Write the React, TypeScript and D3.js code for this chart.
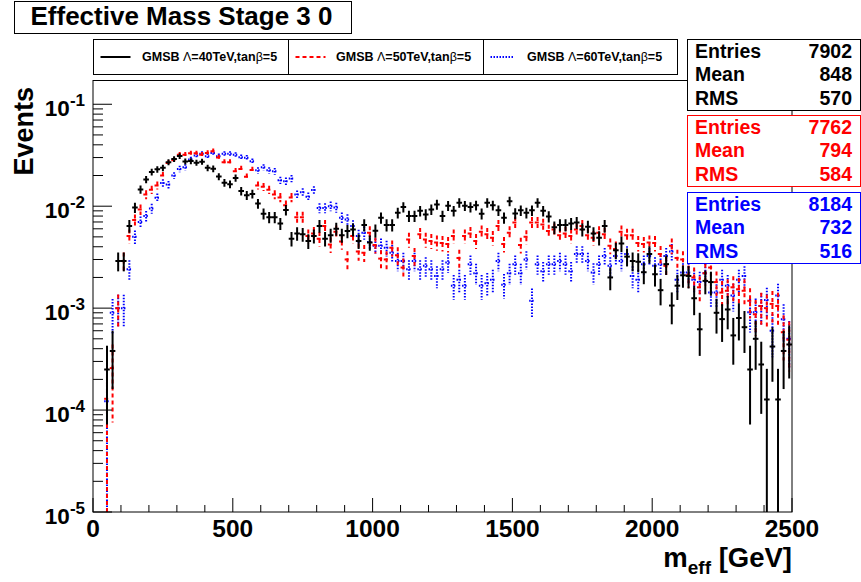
import React from 'react';
import * as d3 from 'd3';

const W = 861;
const H = 582;

const xDomain = [0, 2500];
const binWidth = 20;
const yDomain = [1e-5, 0.171];

const black40 = [0, 0, 2.5e-4, 3.8e-4, 2.9e-3, 2.9e-3, 6.4e-3, 9.7e-3, 1.46e-2, 1.83e-2,
  2.16e-2, 2.3e-2, 2.38e-2, 2.7e-2, 2.9e-2, 3.1e-2, 2.75e-2, 2.77e-2, 2.67e-2, 2.73e-2,
  2.38e-2, 2.33e-2, 1.95e-2, 1.7e-2, 1.64e-2, 1.89e-2, 1.41e-2, 1.28e-2, 1.32e-2, 1.06e-2,
  8.45e-3, 7.8e-3, 7.8e-3, 6.75e-3, 9.2e-3, 4.8e-3, 5.4e-3, 5.3e-3, 4.56e-3, 5.1e-3,
  6.4e-3, 4.8e-3, 5.2e-3, 6.0e-3, 5.2e-3, 5.7e-3, 5.9e-3, 4.56e-3, 6.55e-3, 4.4e-3,
  5.75e-3, 7.7e-3, 6.55e-3, 6.55e-3, 8.6e-3, 9.8e-3, 8.0e-3, 8.0e-3, 9.0e-3, 8.3e-3,
  9.3e-3, 1.04e-2, 8.0e-3, 1.01e-2, 9.0e-3, 1.08e-2, 1.01e-2, 9.8e-3, 1.02e-2, 8.45e-3,
  1.08e-2, 1.02e-2, 9.1e-3, 7.7e-3, 1.12e-2, 8.5e-3, 9.1e-3, 8.6e-3, 9.1e-3, 1.08e-2,
  9.0e-3, 7.9e-3, 6.2e-3, 6.55e-3, 6.55e-3, 6.75e-3, 6.9e-3, 5.9e-3, 6.3e-3, 5.4e-3,
  4.9e-3, 6.4e-3, 2.0e-3, 3.7e-3, 4.3e-3, 3.2e-3, 2.9e-3, 2.85e-3, 2.25e-3, 3.4e-3,
  2.15e-3, 1.5e-3, 2.7e-3, 1.06e-3, 1.66e-3, 2.1e-3, 2.07e-3, 1.25e-3, 6.2e-4, 1.85e-3,
  1.8e-3, 9.0e-4, 7.8e-4, 9.7e-4, 5.4e-4, 8.0e-4, 6.5e-4, 2.5e-4, 5.0e-4, 2.8e-4,
  1.27e-4, 4.2e-4, 1.27e-4, 3.8e-4, 4.4e-4];

const red50 = [0, 0, 1.29e-4, 2.58e-4, 1.0e-3, 2.9e-3, 5.1e-3, 7.3e-3, 9.3e-3, 1.3e-2,
  1.45e-2, 1.6e-2, 2.0e-2, 2.66e-2, 2.83e-2, 3.2e-2, 3.2e-2, 3.3e-2, 3.3e-2, 3.2e-2,
  3.33e-2, 3.46e-2, 3.0e-2, 2.7e-2, 2.7e-2, 2.2e-2, 2.32e-2, 1.94e-2, 2.26e-2, 1.6e-2,
  1.55e-2, 1.45e-2, 1.3e-2, 1.22e-2, 1.02e-2, 1.22e-2, 7.8e-3, 7.8e-3, 5.1e-3, 5.4e-3,
  4.8e-3, 6.4e-3, 4.2e-3, 5.6e-3, 4.5e-3, 3.0e-3, 5.1e-3, 3.6e-3, 3.5e-3, 5.5e-3,
  4.17e-3, 3.06e-3, 3.0e-3, 3.9e-3, 3.3e-3, 2.5e-3, 4.7e-3, 3.25e-3, 5.3e-3, 4.7e-3,
  4.56e-3, 4.4e-3, 4.35e-3, 4.25e-3, 5.1e-3, 3.1e-3, 5.1e-3, 5.4e-3, 4.56e-3, 5.6e-3,
  5.3e-3, 4.9e-3, 6.4e-3, 4.25e-3, 5.5e-3, 6.9e-3, 4.17e-3, 5.0e-3, 6.9e-3, 6.9e-3,
  6.6e-3, 5.7e-3, 5.9e-3, 5.2e-3, 5.4e-3, 5.1e-3, 5.9e-3, 6.4e-3, 5.2e-3, 4.9e-3,
  5.5e-3, 5.3e-3, 4.1e-3, 3.8e-3, 5.6e-3, 5.2e-3, 5.2e-3, 4.35e-3, 4.25e-3, 4.4e-3,
  4.35e-3, 3.4e-3, 2.6e-3, 4.1e-3, 3.1e-3, 3.0e-3, 2.1e-3, 2.0e-3, 1.6e-3, 2.2e-3,
  2.5e-3, 1.8e-3, 1.42e-3, 1.48e-3, 1.6e-3, 1.53e-3, 1.48e-3, 1.18e-3, 8.7e-4, 1.05e-3,
  1.0e-3, 1.1e-3, 1.05e-3, 5.8e-4, 4.9e-4];

const blue60 = [0, 0, 1.22e-4, 9.0e-4, 1.0e-3, 1.0e-3, 2.4e-3, 5.0e-3, 7.0e-3, 8.0e-3,
  9.5e-3, 1.21e-2, 1.69e-2, 1.63e-2, 2.0e-2, 2.32e-2, 2.41e-2, 2.87e-2, 3.14e-2, 3.26e-2,
  3.09e-2, 3.33e-2, 3.09e-2, 3.26e-2, 3.26e-2, 3.19e-2, 3.02e-2, 2.98e-2, 2.76e-2, 2.25e-2,
  2.41e-2, 2.25e-2, 2.2e-2, 1.8e-2, 1.76e-2, 1.87e-2, 1.3e-2, 1.37e-2, 1.24e-2, 1.44e-2,
  9.6e-3, 9.6e-3, 1.0e-2, 9.7e-3, 7.7e-3, 7.4e-3, 6.4e-3, 5.1e-3, 5.5e-3, 4.45e-3,
  4.1e-3, 4.1e-3, 3.9e-3, 3.5e-3, 2.9e-3, 2.9e-3, 2.4e-3, 2.9e-3, 2.4e-3, 2.6e-3,
  2.4e-3, 2.07e-3, 2.4e-3, 2.8e-3, 1.66e-3, 1.9e-3, 1.66e-3, 2.7e-3, 2.2e-3, 1.66e-3,
  1.75e-3, 1.9e-3, 2.9e-3, 1.7e-3, 2.2e-3, 2.7e-3, 2.2e-3, 3.0e-3, 1.18e-3, 2.7e-3,
  2.3e-3, 2.7e-3, 2.7e-3, 2.9e-3, 2.7e-3, 2.3e-3, 3.4e-3, 3.4e-3, 2.9e-3, 2.23e-3,
  2.7e-3, 3.25e-3, 2.6e-3, 3.25e-3, 2.9e-3, 3.4e-3, 2.07e-3, 1.9e-3, 2.7e-3, 3.25e-3,
  2.6e-3, 2.7e-3, 3.25e-3, 3.6e-3, 1.9e-3, 2.23e-3, 2.23e-3, 1.9e-3, 1.8e-3, 2.2e-3,
  1.42e-3, 1.42e-3, 1.9e-3, 1.66e-3, 1.33e-3, 1.9e-3, 2.07e-3, 9.1e-4, 9.1e-4, 1.05e-3,
  1.2e-3, 6.0e-4, 1.33e-3, 7.8e-4, 5.0e-4];

const seriesLabels = ['GMSB Λ=40TeV,tanβ=5', 'GMSB Λ=50TeV,tanβ=5', 'GMSB Λ=60TeV,tanβ=5'];
const entries = [7902, 7762, 8184];
const means = [848, 794, 732];
const rmsValues = [570, 584, 516];
const xTicks = [0, 500, 1000, 1500, 2000, 2500];
const yDecades = [-5, -4, -3, -2, -1];
const titleText = 'Effective Mass Stage 3 0';

const colors = ['#000000', '#ff0000', '#0000ff'];
const dashes = ['none', '4 3', '1.5 1.5'];

const FONT = '"Liberation Sans", Arial, Helvetica, sans-serif';

function GreekText({ text, greekWeight }: { text: string; greekWeight: string }) {
  const parts = text.split(/([Α-Ωα-ω])/).filter((p) => p.length > 0);
  return (
    <>
      {parts.map((p, i) =>
        /[Α-Ωα-ω]/.test(p) ? (
          <tspan key={i} fontWeight={greekWeight}>{p}</tspan>
        ) : (
          <tspan key={i}>{p}</tspan>
        )
      )}
    </>
  );
}

export default function App() {
  const left = 93, right = 792, top = 80.5, bottom = 512;
  const x = d3.scaleLinear().domain(xDomain).range([left, right]);
  const y = d3.scaleLog().domain(yDomain).range([bottom, top]);

  const allSeries = [black40, red50, blue60];
  const order = [2, 1, 0];

  const minorX = d3.range(xDomain[0], xDomain[1] + 1, 100).filter((v) => !xTicks.includes(v));
  const minorY: number[] = [];
  yDecades.forEach((d) => {
    for (let k = 2; k <= 9; k++) {
      const v = k * Math.pow(10, d);
      if (v < yDomain[1]) minorY.push(v);
    }
  });

  const statsTops = [39, 115, 192];
  const legendCellX = [93.5, 288.5, 483.5];
  const legendLineEnd = [37, 37, 30];
  const legendTextX = [142, 336, 527];

  return (
    <svg width={W} height={H} style={{ position: 'absolute', left: 0, top: 0, background: '#fff' }} fontFamily={FONT}>
      <rect x={0} y={0} width={W} height={H} fill="#fff" />
      <defs>
        <clipPath id="plotclip">
          <rect x={left} y={top} width={right - left} height={bottom - top} />
        </clipPath>
      </defs>

      {/* histograms */}
      <g clipPath="url(#plotclip)">
        {order.map((si) => {
          const vals = allSeries[si];
          const N = entries[si];
          return (
            <g key={si} stroke={colors[si]} strokeWidth={2} strokeDasharray={dashes[si]} fill="none">
              {vals.map((v, i) => {
                if (v <= 0) return null;
                const lo = xDomain[0] + i * binWidth;
                const hi = lo + binWidth;
                const cx = x(lo + binWidth / 2);
                const err = Math.sqrt(v / N);
                const yTop = y(v + err);
                const yLow = v - err > yDomain[0] ? y(v - err) : bottom;
                const yv = y(v);
                return (
                  <g key={i}>
                    <line x1={x(lo)} x2={x(hi)} y1={yv} y2={yv} />
                    <line x1={cx} x2={cx} y1={yTop} y2={yLow} />
                  </g>
                );
              })}
            </g>
          );
        })}
      </g>

      {/* frame */}
      <rect x={left} y={top} width={right - left} height={bottom - top} fill="none" stroke="#000" strokeWidth={1} />

      {/* ticks */}
      <g stroke="#000" strokeWidth={1}>
        {xTicks.map((t) => (
          <line key={'xm' + t} x1={x(t)} x2={x(t)} y1={bottom} y2={bottom - 14} />
        ))}
        {minorX.map((t) => (
          <line key={'xn' + t} x1={x(t)} x2={x(t)} y1={bottom} y2={bottom - 7} />
        ))}
        {yDecades.map((d) => (
          <line key={'ym' + d} x1={left} x2={left + 19} y1={y(Math.pow(10, d))} y2={y(Math.pow(10, d))} />
        ))}
        {minorY.map((v, i) => (
          <line key={'yn' + i} x1={left} x2={left + 10} y1={y(v)} y2={y(v)} />
        ))}
      </g>

      {/* x tick labels */}
      <g fontWeight="bold" fontSize={24.5} textAnchor="middle" fill="#000">
        {xTicks.map((t) => (
          <text key={t} x={x(t)} y={537}>{t}</text>
        ))}
      </g>

      {/* y tick labels */}
      <g fontWeight="bold" fontSize={22.5} textAnchor="end" fill="#000">
        {yDecades.map((d) => (
          <text key={d} x={85} y={y(Math.pow(10, d)) + 12}>
            10<tspan fontSize={17} dy={-10}>{String(d)}</tspan>
          </text>
        ))}
      </g>

      {/* axis titles */}
      <text x={792} y={567} textAnchor="end" fontWeight="bold" fontSize={27.5} fill="#000">
        m<tspan fontSize={19} dy={7}>eff</tspan><tspan dy={-7}> [GeV]</tspan>
      </text>
      <text transform="translate(33,87) rotate(-90)" textAnchor="end" fontWeight="bold" fontSize={27} fill="#000">Events</text>

      {/* title */}
      <rect x={14.5} y={1.5} width={337} height={32} fill="#fff" stroke="#000" strokeWidth={1} />
      <text x={181.5} y={25} textAnchor="middle" fontWeight="bold" fontSize={26} fill="#000">{titleText}</text>

      {/* legend */}
      <rect x={93.5} y={39.5} width={584} height={35} fill="#fff" stroke="#000" strokeWidth={1} />
      {[0, 1, 2].map((si) => (
        <g key={si}>
          {si > 0 && <line x1={legendCellX[si]} x2={legendCellX[si]} y1={39.5} y2={74.5} stroke="#000" strokeWidth={1} />}
          <line x1={legendCellX[si] + 7} x2={legendCellX[si] + legendLineEnd[si]} y1={57} y2={57}
            stroke={colors[si]} strokeWidth={2} strokeDasharray={dashes[si]} />
          <text x={legendTextX[si]} y={61} fontWeight="bold" fontSize={12.5} fill="#000">
            <GreekText text={seriesLabels[si]} greekWeight="normal" />
          </text>
        </g>
      ))}

      {/* stats boxes */}
      {[0, 1, 2].map((si) => {
        const t = statsTops[si];
        const rows = [['Entries', entries[si]], ['Mean', means[si]], ['RMS', rmsValues[si]]];
        return (
          <g key={si}>
            <rect x={687.5} y={t + 0.5} width={173} height={71} fill="#fff" stroke={colors[si]} strokeWidth={1} />
            {rows.map((r, k) => (
              <g key={k} fontWeight="bold" fontSize={19.5} fill={colors[si]}>
                <text x={695} y={t + 18.5 + k * 23.8}>{r[0]}</text>
                <text x={852} y={t + 18.5 + k * 23.8} textAnchor="end">{r[1]}</text>
              </g>
            ))}
          </g>
        );
      })}
    </svg>
  );
}
